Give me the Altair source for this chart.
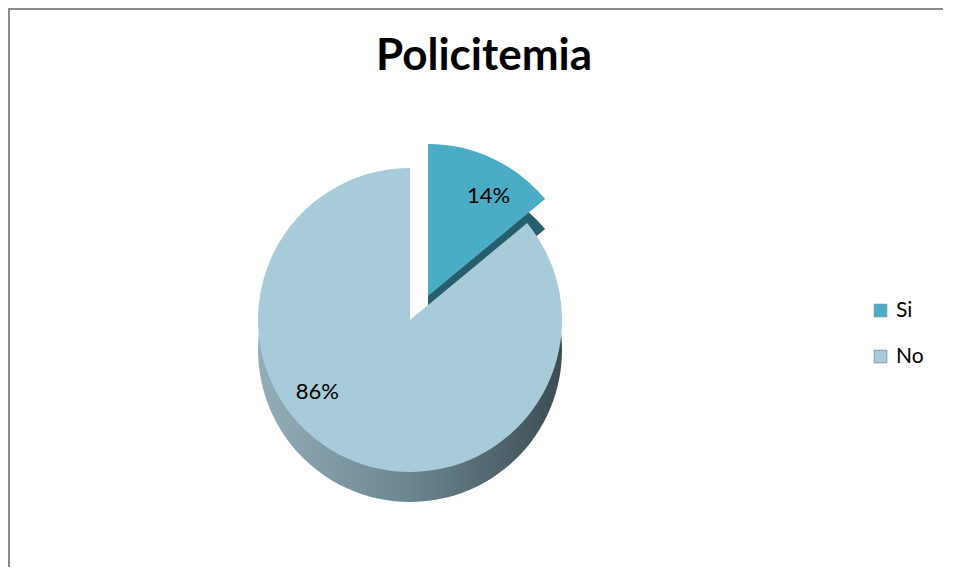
import altair as alt
import pandas as pd

# ---- data ----
categories = ["Si", "No"]
values = [14, 86]
labels = ["14%", "86%"]
top_colors = ["#4BACC6", "#A8CBDA"]
title_text = "Policitemia"

df = pd.DataFrame({"cat": categories, "val": values, "lab": labels, "order": [0, 1]})

# ---- geometry / style (pixels) ----
CX, CY = 402, 312
R = 152
DEPTH = 30
EX, EY = 18, -24  # explosion of the "Si" slice

font = "Lato"

base = alt.Chart(df).transform_stack(
    stack="val", groupby=[], as_=["v0", "v1"], sort=[alt.SortField("order", order="ascending")]
).transform_calculate(mid="(datum.v0 + datum.v1) / 2")

th_scale = alt.Scale(domain=[0, 100])
theta = alt.Theta("v0:Q", scale=th_scale)
theta2 = alt.Theta2("v1:Q")
color = alt.Color(
    "cat:N",
    sort=categories,
    scale=alt.Scale(domain=categories, range=top_colors),
    legend=alt.Legend(
        title=None,
        orient="none",
        legendX=862,
        legendY=292,
        symbolType="square",
        symbolSize=160,
        symbolStrokeColor="#6f8f99",
        symbolStrokeWidth=0.8,
        labelFont=font,
        labelFontSize=21,
        labelColor="#000000",
        labelOffset=5,
        rowPadding=24,
    ),
)

pos = dict(x=alt.value(CX), y=alt.value(CY))

side_grad = alt.Gradient(
    gradient="linear",
    x1=0, y1=0, x2=1, y2=0,
    stops=[
        alt.GradientStop(color="#93AEB9", offset=0),
        alt.GradientStop(color="#6B8691", offset=0.5),
        alt.GradientStop(color="#3C4C53", offset=1),
    ],
)

si = base.transform_filter(alt.datum.cat == "Si")
no = base.transform_filter(alt.datum.cat == "No")

si_side = si.mark_arc(radius=R, fill="#265E6D", xOffset=EX, yOffset=EY + DEPTH).encode(
    theta=theta, theta2=theta2, **pos
)
si_top = si.mark_arc(radius=R, xOffset=EX, yOffset=EY).encode(
    theta=theta, theta2=theta2, color=color, **pos
)
no_side = no.mark_arc(radius=R, fill=side_grad, yOffset=DEPTH).encode(
    theta=theta, theta2=theta2, **pos
)
no_top = no.mark_arc(radius=R).encode(theta=theta, theta2=theta2, color=color, **pos)

si_lab = si.mark_text(
    font=font, fontSize=22, color="#000000", xOffset=EX, yOffset=EY, dx=18, dy=-10
).encode(
    theta=alt.Theta("mid:Q", scale=th_scale), radius=alt.value(100), text="lab:N", **pos
)
no_lab = no.mark_text(
    font=font, fontSize=22, color="#000000", dx=-50, dy=-18
).encode(
    theta=alt.Theta("mid:Q", scale=th_scale), radius=alt.value(100), text="lab:N", **pos
)

title = alt.Chart(alt.Data(values=[{"t": title_text}])).mark_text(
    font=font, fontSize=44, fontWeight="bold", color="#000000", baseline="middle", align="center"
).encode(text="t:N", x=alt.value(476), y=alt.value(49))

border_data = alt.Data(values=[{"k": 1}])
border_left = alt.Chart(border_data).mark_rule(color="#8a8a8a", strokeWidth=2).encode(
    x=alt.value(1), y=alt.value(0), y2=alt.value(600)
)
border_top = alt.Chart(border_data).mark_rule(color="#8a8a8a", strokeWidth=2).encode(
    y=alt.value(1), x=alt.value(0), x2=alt.value(1000)
)

chart = alt.layer(
    border_left, border_top, si_side, si_top, no_side, no_top, si_lab, no_lab, title
).properties(
    width=935, height=559, padding=0, autosize=alt.AutoSizeParams(type="none")
).configure(background="#ffffff").configure_view(stroke="transparent", strokeOpacity=0)

chart.save("out.html", embed_options={"renderer": "svg", "actions": False})
